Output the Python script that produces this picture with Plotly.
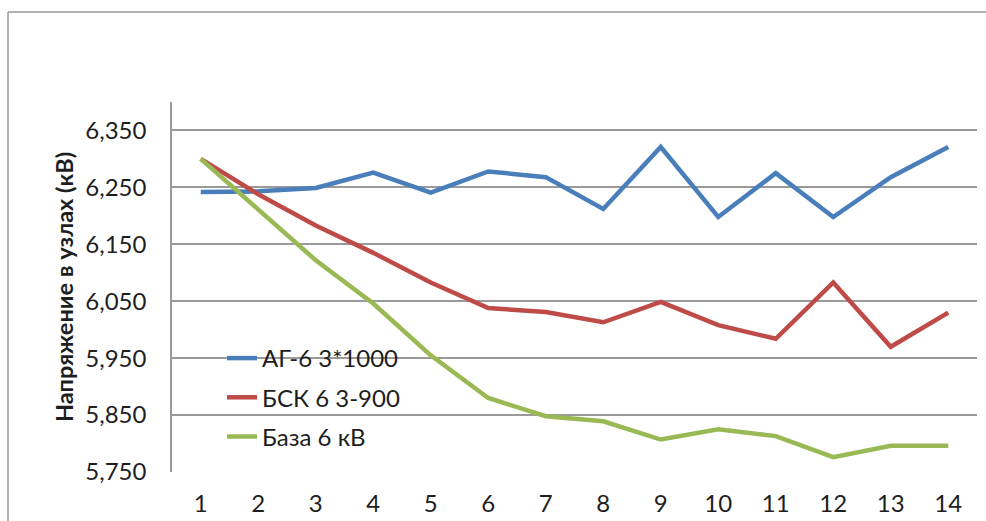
import plotly.graph_objects as go

categories = list(range(1, 15))
series_names = ["АГ-6 3*1000", "БСК 6 3-900", "База 6 кВ"]
ag6 = [6242, 6243, 6249, 6276, 6241, 6278, 6268, 6212, 6321, 6198, 6275, 6198, 6268, 6321]
bsk6 = [6300, 6238, 6183, 6135, 6083, 6038, 6031, 6013, 6049, 6008, 5984, 6083, 5970, 6030]
baza6 = [6300, 6212, 6122, 6046, 5955, 5880, 5848, 5839, 5807, 5825, 5813, 5776, 5796, 5796]
y_ticks = [5750, 5850, 5950, 6050, 6150, 6250, 6350]
y_title = "Напряжение в узлах (кВ)"

colors = ["#4A7EBB", "#BE4B48", "#98B954"]
FONT = "Lato"
TXT = "#1e1e1e"

fig = go.Figure()
for name, vals, col in zip(series_names, [ag6, bsk6, baza6], colors):
    fig.add_trace(go.Scatter(
        x=categories, y=vals, name=name, mode="lines",
        line=dict(color=col, width=4.5), legendgroup=name,
    ))

L, R, T, B = 172, 9, 102, 49
W, H = 986, 521
pw, ph = W - L - R, H - T - B

def px_x(p):
    return (p - L) / pw

def px_y(p):
    return (H - B - p) / ph

fig.update_layout(
    width=W, height=H,
    margin=dict(l=L, r=R, t=T, b=B, autoexpand=False),
    paper_bgcolor="white", plot_bgcolor="white",
    font=dict(family=FONT, size=24, color=TXT),
    showlegend=True,
    legend=dict(
        x=px_x(222), y=px_y(336), xanchor="left", yanchor="top",
        bgcolor="rgba(0,0,0,0)", font=dict(family=FONT, size=24, color=TXT),
        tracegroupgap=5,
    ),
    xaxis=dict(
        range=[0.5, 14.5], tickmode="array", tickvals=categories,
        ticktext=[str(c) for c in categories],
        showgrid=False, zeroline=False, showline=False,
        ticks="", ticklabelstandoff=15,
        tickfont=dict(family=FONT, size=24, color=TXT),
    ),
    yaxis=dict(
        range=[5750, 6400], tickmode="array", tickvals=y_ticks,
        ticktext=[f"{v:,}" for v in y_ticks],
        showgrid=True, gridcolor="#9a9a9a", gridwidth=1.5,
        zeroline=False, showline=True, linecolor="#9a9a9a", linewidth=1.5,
        ticks="", ticklabelstandoff=19,
        tickfont=dict(family=FONT, size=24, color=TXT),
        title=dict(text=f"<b>{y_title}</b>", standoff=5,
                   font=dict(family=FONT, size=23.5, color=TXT)),
    ),
    shapes=[
        dict(type="line", xref="paper", yref="paper",
             x0=px_x(8), x1=px_x(1000), y0=px_y(12), y1=px_y(12),
             line=dict(color="#9a9a9a", width=1.5)),
        dict(type="line", xref="paper", yref="paper",
             x0=px_x(8), x1=px_x(8), y0=px_y(12), y1=px_y(540),
             line=dict(color="#9a9a9a", width=1.5)),
    ],
)

fig.write_html(
    "out.html",
    config={"displayModeBar": False},
    post_script="document.body.style.margin='0';document.body.style.overflow='hidden';",
)
